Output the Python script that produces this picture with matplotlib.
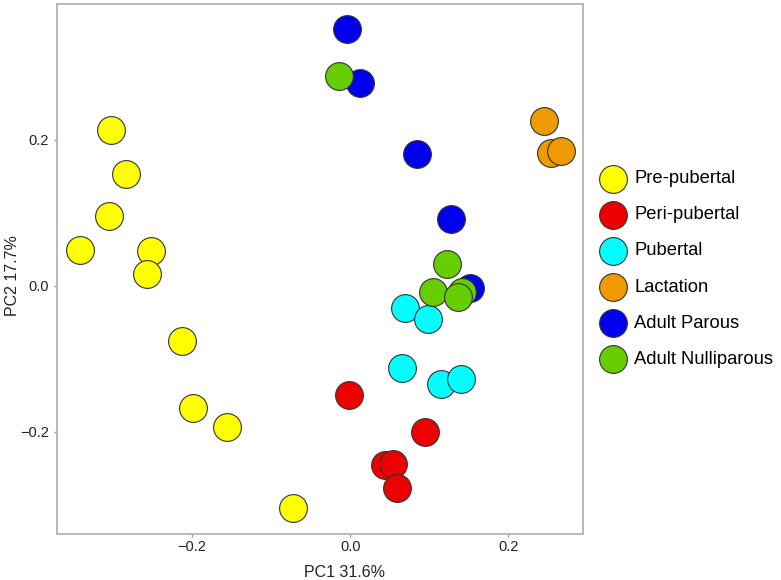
import matplotlib.pyplot as plt

plt.rcParams['font.family'] = ['Liberation Sans', 'DejaVu Sans']

groups = ["Pre-pubertal", "Peri-pubertal", "Pubertal", "Lactation",
          "Adult Parous", "Adult Nulliparous"]
colors = ["#FFFF00", "#EE0000", "#00FFFF", "#EE9A00", "#0000EE", "#66CD00"]

pre_x = [-0.303, -0.284, -0.305, -0.342, -0.252, -0.257, -0.213, -0.199, -0.156, -0.073]
pre_y = [0.214, 0.153, 0.095, 0.049, 0.047, 0.016, -0.075, -0.168, -0.193, -0.305]

peri_x = [-0.002, 0.095, 0.044, 0.054, 0.059]
peri_y = [-0.149, -0.200, -0.245, -0.244, -0.277]

pub_x = [0.069, 0.098, 0.065, 0.115, 0.140]
pub_y = [-0.030, -0.045, -0.112, -0.134, -0.127]

lac_x = [0.245, 0.254, 0.267]
lac_y = [0.226, 0.182, 0.184]

parous_x = [-0.004, 0.012, 0.084, 0.127, 0.152]
parous_y = [0.352, 0.278, 0.181, 0.092, -0.003]

nulli_x = [-0.014, 0.122, 0.105, 0.142, 0.136]
nulli_y = [0.288, 0.030, -0.008, -0.008, -0.016]

xs = [pre_x, peri_x, pub_x, lac_x, parous_x, nulli_x]
ys = [pre_y, peri_y, pub_y, lac_y, parous_y, nulli_y]

fig = plt.figure(figsize=(7.81, 5.80), dpi=100)
ax = fig.add_axes([0.073, 0.0793, 0.6735, 0.9138])

for name, col, x, y in zip(groups, colors, xs, ys):
    ax.scatter(x, y, s=400, c=col, edgecolors="#333333", linewidths=0.8, label=name)

ax.set_xlim(-0.371, 0.2946)
ax.set_ylim(-0.340, 0.386)
ax.set_xticks([-0.2, 0.0, 0.2])
ax.set_yticks([-0.2, 0.0, 0.2])
ax.set_xticklabels(["\u22120.2", "0.0", "0.2"])
ax.set_yticklabels(["\u22120.2", "0.0", "0.2"])

for sp in ax.spines.values():
    sp.set_color("#B3B3B3")
    sp.set_linewidth(1.3)
ax.tick_params(colors="#999999", length=2.5, width=1, labelsize=10.5,
               labelcolor="#222222")
ax.tick_params(axis="x", pad=2)

ax.set_xlabel("PC1 31.6%", fontsize=11.5, color="#222222")
ax.set_ylabel("PC2 17.7%", fontsize=11.5, color="#222222")
ax.xaxis.set_label_coords((344 - 57) / 526, -0.058)
ax.yaxis.set_label_coords((20 - 57) / 526, (534 - 276) / 530)

leg = ax.legend(loc="center left", bbox_to_anchor=(1.0, 0.5), frameon=False,
                fontsize=13.2, markerscale=1.0, handletextpad=0.15,
                labelspacing=1.04, borderaxespad=0.25)

fig.savefig("out.png", dpi=100)
